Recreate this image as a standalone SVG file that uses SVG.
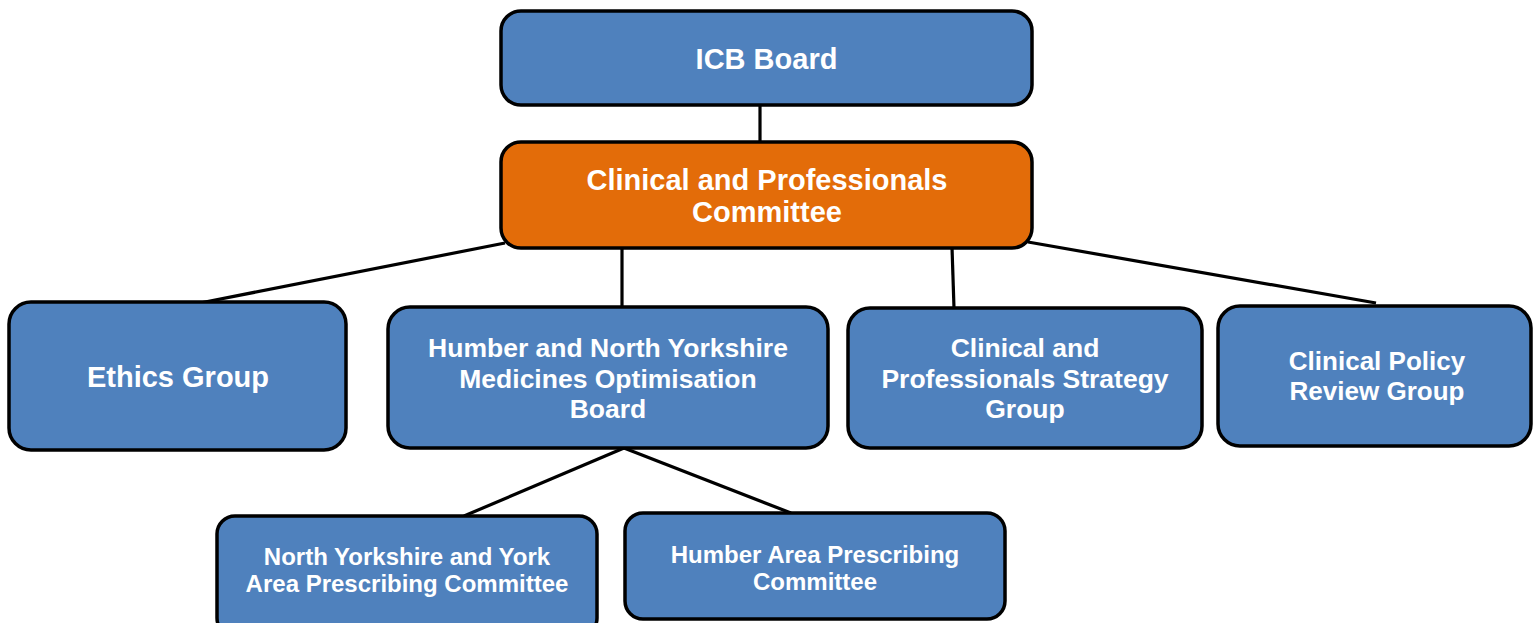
<svg xmlns="http://www.w3.org/2000/svg" width="1534" height="623" viewBox="0 0 1534 623">
<style>
.box{fill:#4F81BD;stroke:#000;stroke-width:3.5}
.org{fill:#E36C09;stroke:#000;stroke-width:3.5}
.ln{stroke:#000;stroke-width:3.2;fill:none}
text{font-family:"Liberation Sans",Arial,sans-serif;font-weight:bold;fill:#fff;text-anchor:middle}
</style>
<rect width="1534" height="623" fill="#fff"/>
<g id="connectors">
<line class="ln" x1="760" y1="106" x2="760" y2="142"/>
<line class="ln" x1="505" y1="243" x2="195" y2="304"/>
<line class="ln" x1="622" y1="247" x2="622" y2="307"/>
<line class="ln" x1="952" y1="247" x2="954" y2="308"/>
<line class="ln" x1="1028" y1="242" x2="1376" y2="303"/>
<line class="ln" x1="624" y1="448" x2="464" y2="516"/>
<line class="ln" x1="624" y1="448" x2="791" y2="513"/>
</g>
<g id="icb-board">
<rect class="box" x="501" y="11" width="531" height="94" rx="20"/>
<text x="766.5" y="69" font-size="29">ICB Board</text>
</g>
<g id="clinical-professionals-committee">
<rect class="org" x="501" y="142" width="531" height="106" rx="20"/>
<text x="767" y="190" font-size="29">Clinical and Professionals</text>
<text x="767" y="222" font-size="29">Committee</text>
</g>
<g id="ethics-group">
<rect class="box" x="9" y="302" width="337" height="148" rx="22"/>
<text x="178" y="387" font-size="29">Ethics Group</text>
</g>
<g id="mob">
<rect class="box" x="388" y="307" width="440" height="141" rx="22"/>
<text x="608" y="357" font-size="26.5">Humber and North Yorkshire</text>
<text x="608" y="388" font-size="26.5">Medicines Optimisation</text>
<text x="608" y="418" font-size="26.5">Board</text>
</g>
<g id="cpsg">
<rect class="box" x="848" y="308" width="354" height="140" rx="22"/>
<text x="1025" y="357" font-size="26.5">Clinical and</text>
<text x="1025" y="388" font-size="26.5">Professionals Strategy</text>
<text x="1025" y="418" font-size="26.5">Group</text>
</g>
<g id="cprg">
<rect class="box" x="1218" y="306" width="313" height="140" rx="22"/>
<text x="1377" y="370" font-size="26">Clinical Policy</text>
<text x="1377" y="400" font-size="26">Review Group</text>
</g>
<g id="nyy-apc">
<rect class="box" x="217" y="516" width="380" height="120" rx="18"/>
<text x="407" y="565" font-size="24">North Yorkshire and York</text>
<text x="407" y="592" font-size="24">Area Prescribing Committee</text>
</g>
<g id="humber-apc">
<rect class="box" x="625" y="513" width="380" height="106" rx="18"/>
<text x="815" y="563" font-size="24">Humber Area Prescribing</text>
<text x="815" y="590" font-size="24">Committee</text>
</g>
</svg>
